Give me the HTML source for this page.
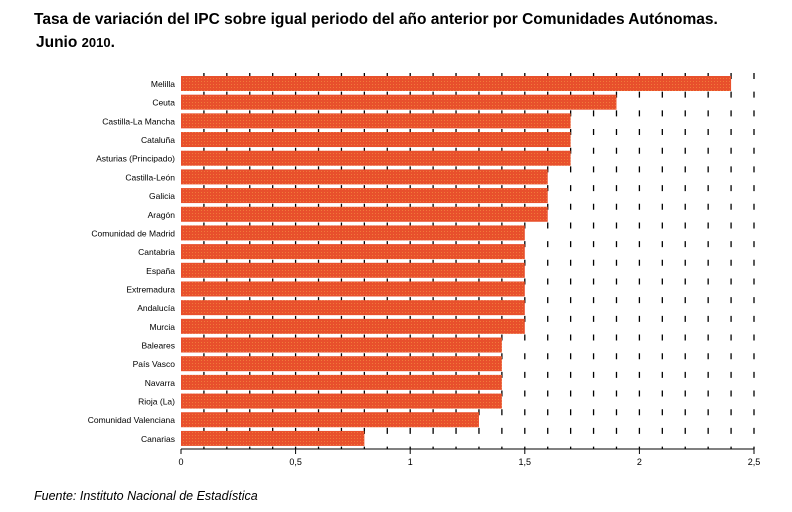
<!DOCTYPE html>
<html><head><meta charset="utf-8"><style>
body{margin:0;background:#fff;width:792px;height:512px;overflow:hidden;font-family:"Liberation Sans",sans-serif}
svg{position:absolute;left:0;top:0}
</style></head><body>
<svg width="792" height="512">
<defs><pattern id="tex" width="3" height="3" patternUnits="userSpaceOnUse"><rect width="3" height="3" fill="#e8502c"/><rect width="1" height="1" fill="#f07a3a"/></pattern></defs>
<text x="34" y="24" font-size="15.5" font-weight="bold">Tasa de variación del IPC sobre igual periodo del año anterior por Comunidades Autónomas.</text>
<text x="36" y="47" font-size="15.5" font-weight="bold">Junio <tspan font-size="13">2010</tspan>.</text>
<g id="grid"></g><g id="bars"></g><g id="axis"></g>
<text x="34" y="500" font-size="12.5" font-style="italic">Fuente: Instituto Nacional de Estadística</text>
</svg>
<script>
const categories=["Melilla","Ceuta","Castilla-La Mancha","Cataluña","Asturias (Principado)","Castilla-León","Galicia","Aragón","Comunidad de Madrid","Cantabria","España","Extremadura","Andalucía","Murcia","Baleares","País Vasco","Navarra","Rioja (La)","Comunidad Valenciana","Canarias"];
const values=[2.4,1.9,1.7,1.7,1.7,1.6,1.6,1.6,1.5,1.5,1.5,1.5,1.5,1.5,1.4,1.4,1.4,1.4,1.3,0.8];
const tickLabels=["0","0,5","1","1,5","2","2,5"];
const tickValues=[0,0.5,1,1.5,2,2.5];
const NS="http://www.w3.org/2000/svg";
const x0=181,x1=754,xmax=2.5,plotTop=73,rowH=18.68,bot=449;
const X=v=>x0+(x1-x0)*v/xmax;
const Y=i=>plotTop+3+i*rowH;
function mk(t,a,p){const e=document.createElementNS(NS,t);for(const k in a)e.setAttribute(k,a[k]);p.appendChild(e);return e;}
const grid=document.getElementById('grid'),bars=document.getElementById('bars'),axis=document.getElementById('axis');
for(let k=1;k<=25;k++){
 const l=mk('line',{x1:X(k/10),x2:X(k/10),y1:plotTop,y2:bot,stroke:'#000','stroke-width':1.3,'stroke-dasharray':'6,12.68'},grid);
 
 
}
categories.forEach((c,i)=>{
 const r=mk('rect',{x:X(0),y:Y(i),width:X(values[i])-X(0),height:15,fill:'url(#tex)'},bars);
 
 
 const t=mk('text',{x:175,y:Y(i)+11,'font-size':8.5,'text-anchor':'end'},bars);
 t.textContent=c;
 
 
});
const al=mk('line',{x1:x0,x2:x1,y1:bot,y2:bot,stroke:'#000','stroke-width':1},axis);


tickValues.forEach((v,i)=>{
 const tk=mk('line',{x1:X(v),x2:X(v),y1:bot,y2:bot+5,stroke:'#000'},axis);
 
 
 const t=mk('text',{x:X(v),y:465,'font-size':9,'text-anchor':'middle'},axis);
 t.textContent=tickLabels[i];
 
 
});
</script>
</body></html>
